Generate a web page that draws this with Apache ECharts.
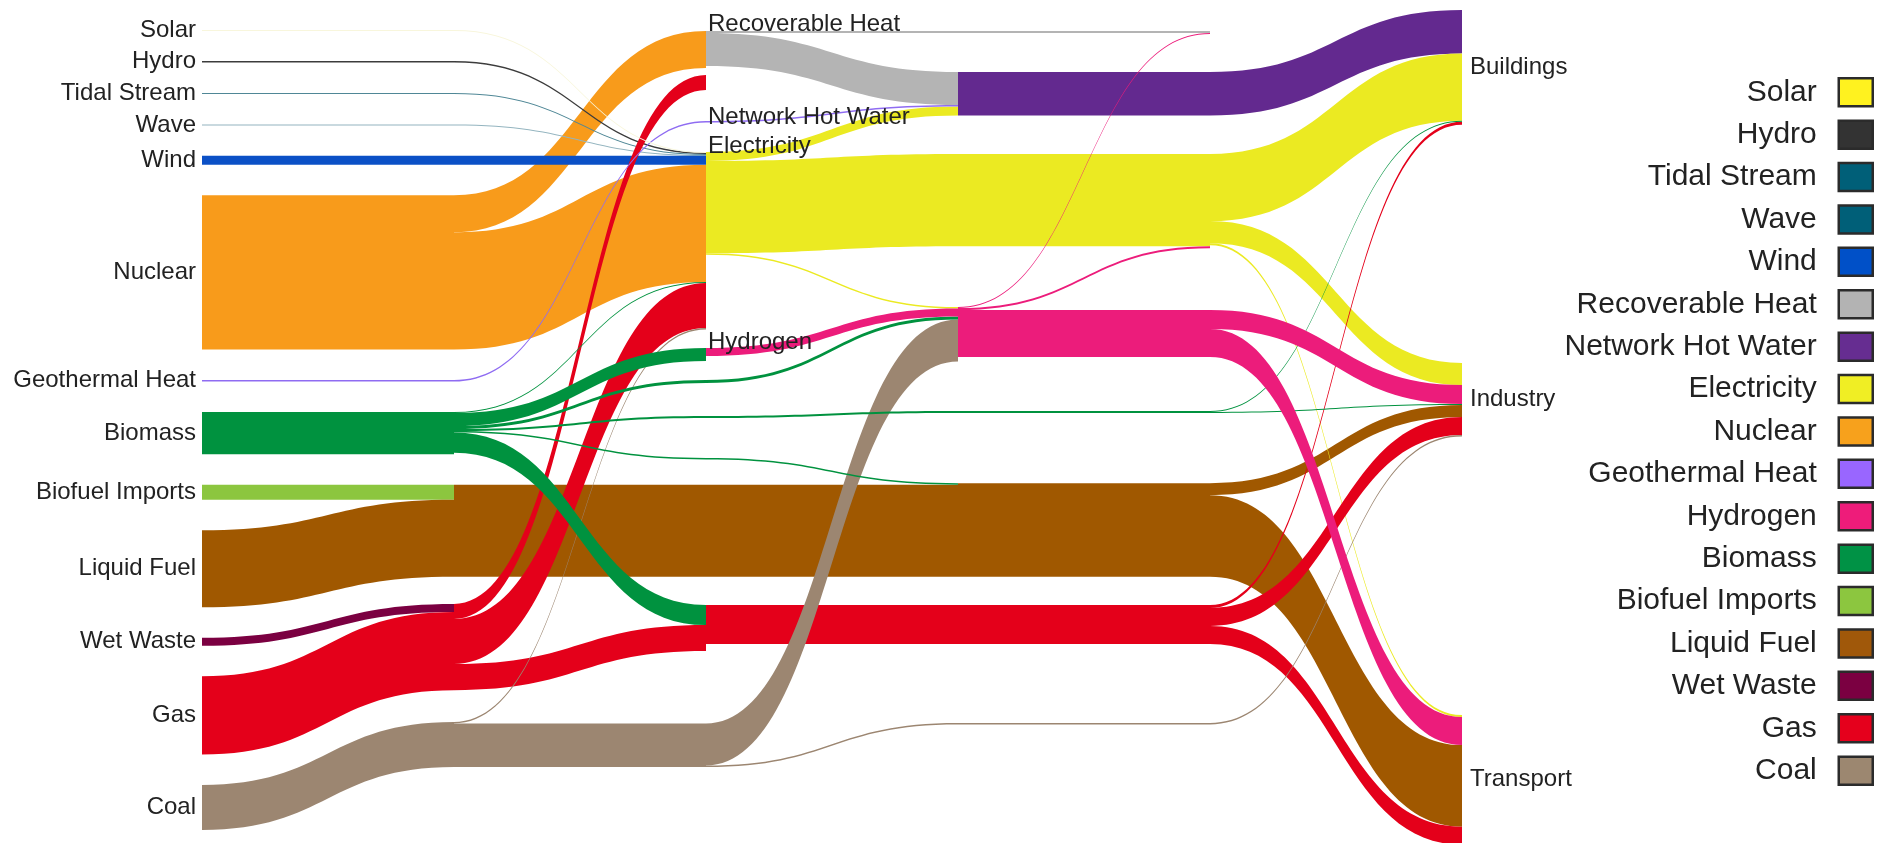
<!DOCTYPE html>
<html>
<head>
<meta charset="utf-8">
<script src="https://cdn.jsdelivr.net/npm/echarts@6/dist/echarts.min.js"></script>
<style>
html,body{margin:0;padding:0;background:#ffffff;}
#chart{width:1888px;height:843px;}
</style>
</head>
<body>
<div id="chart"></div>
<script>
// ================= DATA =================
// Column 0: primary sources (top to bottom)
const primarySources = ['Solar','Hydro','Tidal Stream','Wave','Wind','Nuclear','Geothermal Heat','Biomass','Biofuel Imports','Liquid Fuel','Wet Waste','Gas','Coal'];
// Columns 1-4: conversion / pass-through nodes, column 5: end uses
const column1 = ['Solar (1)','Hydro (1)','Tidal Stream (1)','Wave (1)','Wind (1)','Nuclear (1)','Geothermal Heat (1)','Biomass (1)','Liquid Fuel (1)','Gas (1)','Coal (1)'];
const column2 = ['Recoverable Heat','Network Hot Water','Geothermal Heat (2)','Electricity','Hydrogen','Biomass to H2 (2)','Biomass to end use (2)','Biomass to liquid (2)','Liquid Fuel (2)','Gas (2)','Coal (2)'];
const column3 = ['Recoverable Heat (3)','Network Hot Water (3)','Electricity (3)','Hydrogen (3)','Biomass to end use (3)','Liquid Fuel (3)','Gas (3)','Coal (3)'];
const column4 = ['Unused (4)','Network Hot Water (4)','Electricity (4)','Hydrogen (4)','Biomass to end use (4)','Liquid Fuel (4)','Gas (4)','Coal (4)'];
const endUses = ['Buildings','Industry','Transport'];

// Flows: [source, target, value (TWh), carrier]
const flowsStage1 = [
  ['Solar','Solar (1)',0.5,'Solar'],
  ['Hydro','Hydro (1)',1.5,'Hydro'],
  ['Tidal Stream','Tidal Stream (1)',1,'Tidal Stream'],
  ['Wave','Wave (1)',0.8,'Wave'],
  ['Wind','Wind (1)',9,'Wind'],
  ['Nuclear','Nuclear (1)',154,'Nuclear'],
  ['Geothermal Heat','Geothermal Heat (1)',1.5,'Geothermal Heat'],
  ['Biomass','Biomass (1)',42,'Biomass'],
  ['Biofuel Imports','Liquid Fuel (1)',15,'Biofuel Imports'],
  ['Liquid Fuel','Liquid Fuel (1)',77,'Liquid Fuel'],
  ['Wet Waste','Gas (1)',8,'Wet Waste'],
  ['Gas','Gas (1)',78,'Gas'],
  ['Coal','Coal (1)',45,'Coal']
];
const flowsStage2 = [
  ['Solar (1)','Electricity',0.5,'Solar'],
  ['Hydro (1)','Electricity',1.5,'Hydro'],
  ['Tidal Stream (1)','Electricity',1,'Tidal Stream'],
  ['Wave (1)','Electricity',0.8,'Wave'],
  ['Wind (1)','Electricity',9,'Wind'],
  ['Nuclear (1)','Recoverable Heat',37,'Nuclear'],
  ['Nuclear (1)','Electricity',117,'Nuclear'],
  ['Geothermal Heat (1)','Geothermal Heat (2)',1.5,'Geothermal Heat'],
  ['Biomass (1)','Electricity',1,'Biomass'],
  ['Biomass (1)','Hydrogen',13,'Biomass'],
  ['Biomass (1)','Biomass to H2 (2)',3,'Biomass'],
  ['Biomass (1)','Biomass to end use (2)',2,'Biomass'],
  ['Biomass (1)','Biomass to liquid (2)',1.5,'Biomass'],
  ['Biomass (1)','Gas (2)',20,'Biomass'],
  ['Liquid Fuel (1)','Liquid Fuel (2)',92,'Liquid Fuel'],
  ['Gas (1)','Network Hot Water',15,'Gas'],
  ['Gas (1)','Electricity',45,'Gas'],
  ['Gas (1)','Gas (2)',26,'Gas'],
  ['Coal (1)','Electricity',1.5,'Coal'],
  ['Coal (1)','Coal (2)',43.5,'Coal']
];
const flowsStage3 = [
  ['Recoverable Heat','Recoverable Heat (3)',2,'Recoverable Heat'],
  ['Recoverable Heat','Network Hot Water (3)',33,'Recoverable Heat'],
  ['Geothermal Heat (2)','Network Hot Water (3)',1.5,'Geothermal Heat'],
  ['Electricity','Network Hot Water (3)',9,'Electricity'],
  ['Electricity','Electricity (3)',92,'Electricity'],
  ['Electricity','Hydrogen (3)',1.5,'Electricity'],
  ['Hydrogen','Hydrogen (3)',8,'Hydrogen'],
  ['Biomass to H2 (2)','Hydrogen (3)',3,'Biomass'],
  ['Biomass to end use (2)','Biomass to end use (3)',2,'Biomass'],
  ['Biomass to liquid (2)','Liquid Fuel (3)',1.5,'Biomass'],
  ['Liquid Fuel (2)','Liquid Fuel (3)',92,'Liquid Fuel'],
  ['Gas (2)','Gas (3)',39,'Gas'],
  ['Coal (2)','Hydrogen (3)',42,'Coal'],
  ['Coal (2)','Coal (3)',1.5,'Coal']
];
const flowsStage4 = [
  ['Recoverable Heat (3)','Unused (4)',2,'Recoverable Heat'],
  ['Hydrogen (3)','Unused (4)',1,'Hydrogen'],
  ['Network Hot Water (3)','Network Hot Water (4)',43.5,'Network Hot Water'],
  ['Electricity (3)','Electricity (4)',92,'Electricity'],
  ['Hydrogen (3)','Electricity (4)',2,'Hydrogen'],
  ['Hydrogen (3)','Hydrogen (4)',47,'Hydrogen'],
  ['Biomass to end use (3)','Biomass to end use (4)',2,'Biomass'],
  ['Liquid Fuel (3)','Liquid Fuel (4)',93.5,'Liquid Fuel'],
  ['Gas (3)','Gas (4)',39,'Gas'],
  ['Coal (3)','Coal (4)',1.5,'Coal']
];
const flowsStage5 = [
  ['Network Hot Water (4)','Buildings',43.5,'Network Hot Water'],
  ['Electricity (4)','Buildings',67,'Electricity'],
  ['Electricity (4)','Industry',22,'Electricity'],
  ['Electricity (4)','Transport',2,'Electricity'],
  ['Hydrogen (4)','Industry',19,'Hydrogen'],
  ['Hydrogen (4)','Transport',28,'Hydrogen'],
  ['Biomass to end use (4)','Buildings',1,'Biomass'],
  ['Biomass to end use (4)','Industry',1,'Biomass'],
  ['Liquid Fuel (4)','Industry',12,'Liquid Fuel'],
  ['Liquid Fuel (4)','Transport',81.5,'Liquid Fuel'],
  ['Gas (4)','Buildings',3,'Gas'],
  ['Gas (4)','Industry',18,'Gas'],
  ['Gas (4)','Transport',18,'Gas'],
  ['Coal (4)','Industry',1.5,'Coal']
];

// Legend entries (carriers)
const legendNames = ['Solar','Hydro','Tidal Stream','Wave','Wind','Recoverable Heat','Network Hot Water','Electricity','Nuclear','Geothermal Heat','Hydrogen','Biomass','Biofuel Imports','Liquid Fuel','Wet Waste','Gas','Coal'];

// ================= LAYOUT / STYLE =================
const FONT = '"Liberation Sans", Arial, Helvetica, sans-serif';
const seriesLeft = 202, seriesTop = 30, seriesWidth = 1260, seriesHeight = 800, nodeGap = 30.5;

// node vertical placement (px top), like stacked positions in the original sankey
const anchorTop = {
  'Gas (1)':604, 'Coal (1)':722,
  'Recoverable Heat':31, 'Network Hot Water':75, 'Geothermal Heat (2)':121, 'Electricity':152,
  'Hydrogen':348, 'Biomass to H2 (2)':380, 'Biomass to end use (2)':416, 'Biomass to liquid (2)':458, 'Gas (2)':605,
  'Network Hot Water (3)':72, 'Electricity (3)':154, 'Hydrogen (3)':307, 'Biomass to end use (3)':411, 'Coal (3)':723,
  'Buildings':10, 'Industry':363, 'Transport':715
};
// nodes aligned so that the flow from the given node runs flat
const alignTo = {
  'Solar (1)':'Solar','Hydro (1)':'Hydro','Tidal Stream (1)':'Tidal Stream','Wave (1)':'Wave','Wind (1)':'Wind',
  'Nuclear (1)':'Nuclear','Geothermal Heat (1)':'Geothermal Heat','Biomass (1)':'Biomass','Liquid Fuel (1)':'Biofuel Imports',
  'Liquid Fuel (2)':'Liquid Fuel (1)','Coal (2)':'Coal (1)',
  'Recoverable Heat (3)':'Recoverable Heat','Liquid Fuel (3)':'Liquid Fuel (2)','Gas (3)':'Gas (2)',
  'Unused (4)':'Recoverable Heat (3)','Network Hot Water (4)':'Network Hot Water (3)','Electricity (4)':'Electricity (3)',
  'Hydrogen (4)':'Hydrogen (3)','Biomass to end use (4)':'Biomass to end use (3)','Liquid Fuel (4)':'Liquid Fuel (3)',
  'Gas (4)':'Gas (3)','Coal (4)':'Coal (3)'
};
const midLabelOffset = {'Recoverable Heat':-7,'Network Hot Water':42,'Electricity':-6,'Hydrogen':-6};

const legendColor = {
  'Solar':'#fff21f','Hydro':'#333333','Tidal Stream':'#005f78','Wave':'#005f78','Wind':'#0050c8',
  'Recoverable Heat':'#b3b3b3','Network Hot Water':'#662d91','Electricity':'#f0ee24','Nuclear':'#f7a11c',
  'Geothermal Heat':'#9966ff','Hydrogen':'#ee1c7a','Biomass':'#009245','Biofuel Imports':'#8cc63f',
  'Liquid Fuel':'#a0580a','Wet Waste':'#7b0041','Gas':'#e5001c','Coal':'#9c8770'
};
const flowColor = Object.assign({}, legendColor, {
  'Solar':'#f8f6dc','Hydro':'#3c3c3c','Tidal Stream':'#4f8796','Wave':'#93b4bf','Wind':'#0b50c6',
  'Electricity':'#ebea22','Nuclear':'#f89b1b','Liquid Fuel':'#a05800','Gas':'#e4001a','Coal':'#9c8671',
  'Biomass':'#00923f','Network Hot Water':'#63298f','Hydrogen':'#ec1c7b','Recoverable Heat':'#b4b4b4',
  'Geothermal Heat':'#8f6cf2'
});
const drawOrder = {
  'Liquid Fuel':0,'Biofuel Imports':0,'Nuclear':1,'Recoverable Heat':2,'Network Hot Water':2,'Electricity':3,
  'Hydro':3.5,'Tidal Stream':3.5,'Wave':3.5,'Wind':3.5,'Wet Waste':4,'Gas':4,'Coal':5,'Biomass':6,
  'Geothermal Heat':6.5,'Hydrogen':7,'Solar':7
};

// ================= BUILD =================
const columns = [primarySources, column1, column2, column3, column4, endUses];
const flows = [].concat(flowsStage1, flowsStage2, flowsStage3, flowsStage4, flowsStage5);

const inSum = {}, outSum = {};
flows.forEach(function (f) {
  outSum[f[0]] = (outSum[f[0]] || 0) + f[2];
  inSum[f[1]] = (inSum[f[1]] || 0) + f[2];
});
function nodeValue(n) { return Math.max(inSum[n] || 0, outSum[n] || 0); }
// same value-to-pixel factor the sankey layout uses
const ky = Math.min.apply(null, columns.map(function (col) {
  const sum = col.reduce(function (a, n) { return a + nodeValue(n); }, 0);
  return (seriesHeight - (col.length - 1) * nodeGap) / sum;
}));
const indexInColumn = {};
columns.forEach(function (col) { col.forEach(function (n, i) { indexInColumn[n] = i; }); });
function outOffset(s, t) {
  return ky * flows.filter(function (f) { return f[0] === s && indexInColumn[f[1]] < indexInColumn[t]; })
    .reduce(function (a, f) { return a + f[2]; }, 0);
}
function inOffset(t, s) {
  return ky * flows.filter(function (f) { return f[1] === t && indexInColumn[f[0]] < indexInColumn[s]; })
    .reduce(function (a, f) { return a + f[2]; }, 0);
}
const nodeTop = {};
let yCursor = seriesTop;
primarySources.forEach(function (n) { nodeTop[n] = yCursor; yCursor += nodeValue(n) * ky + nodeGap; });
columns.slice(1).forEach(function (col) {
  col.forEach(function (n) {
    if (anchorTop[n] != null) nodeTop[n] = anchorTop[n];
    else { const s = alignTo[n]; nodeTop[n] = nodeTop[s] + outOffset(s, n) - inOffset(n, s); }
  });
});

const nodes = [];
columns.forEach(function (col, depth) {
  col.forEach(function (n) {
    const node = { name: n, depth: depth };
    if (depth > 0) node.localY = (nodeTop[n] - seriesTop) / seriesHeight;
    let label = { show: false };
    if (depth === 0) label = { show: true, position: 'left', distance: 6 };
    else if (depth === 5) label = { show: true, position: 'right', distance: 8 };
    else if (midLabelOffset[n] != null) label = { show: true, position: [2, midLabelOffset[n]], align: 'left', verticalAlign: 'middle' };
    node.label = label;
    nodes.push(node);
  });
});

const links = flows.map(function (f, i) { return { f: f, i: i }; })
  .sort(function (a, b) { return (drawOrder[a.f[3]] - drawOrder[b.f[3]]) || (a.i - b.i); })
  .map(function (o) {
    return { source: o.f[0], target: o.f[1], value: o.f[2], lineStyle: { color: flowColor[o.f[3]] } };
  });

const legendSeries = legendNames.map(function (n) {
  return { type: 'scatter', name: n, data: [], itemStyle: { color: legendColor[n], opacity: 1 } };
});

const chart = echarts.init(document.getElementById('chart'), null, { renderer: 'canvas' });
chart.setOption({
  backgroundColor: '#ffffff',
  animation: false,
  tooltip: { show: false },
  grid: { left: 0, top: 0, width: 1, height: 1, show: false },
  xAxis: { show: false, type: 'value' },
  yAxis: { show: false, type: 'value' },
  legend: {
    data: legendNames,
    orient: 'vertical',
    right: 9,
    top: 72,
    align: 'right',
    icon: 'rect',
    itemWidth: 34,
    itemHeight: 28,
    itemGap: 11.9,
    selectedMode: false,
    itemStyle: { borderColor: '#2b2b2b', borderWidth: 2.5, opacity: 1 },
    textStyle: { fontSize: 30, color: '#222222', fontFamily: FONT, padding: [0, 17, 0, 0] }
  },
  series: [{
    type: 'sankey',
    name: 'Energy flows',
    left: seriesLeft,
    top: seriesTop,
    width: seriesWidth,
    height: seriesHeight,
    nodeWidth: 0,
    nodeGap: nodeGap,
    layoutIterations: 0,
    nodeAlign: 'left',
    draggable: false,
    data: nodes,
    links: links,
    itemStyle: { color: 'rgba(0,0,0,0)', borderWidth: 0 },
    lineStyle: { opacity: 1, curveness: 0.5 },
    label: { color: '#222222', fontSize: 24, fontFamily: FONT },
    emphasis: { disabled: true }
  }].concat(legendSeries)
});
</script>
</body>
</html>
